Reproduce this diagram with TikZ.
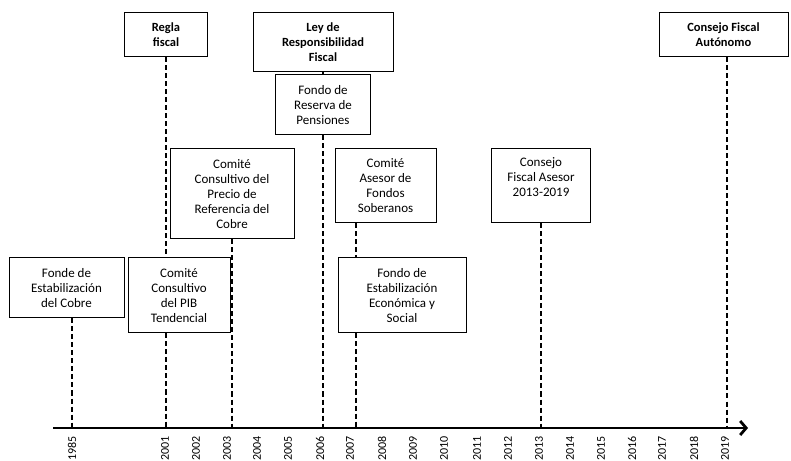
\documentclass[tikz,border=0pt]{standalone}
\usepackage{fontspec}
\setmainfont{Carlito}
\usepackage{tikz}
\usetikzlibrary{positioning, arrows.meta}
\tikzstyle{evento} = [rectangle, draw=black, line width=1pt, fill=white, align=center, inner sep=2pt, font=\fontsize{13}{15}\selectfont]
\tikzstyle{titulo} = [evento, font=\fontsize{12.5}{15}\selectfont\bfseries]
\tikzstyle{linea} = [line width=1.5pt, dash pattern=on 5pt off 3pt]
\tikzstyle{eje} = [line width=2.8pt, -{Straight Barb[length=6pt, width=14pt]}]
\tikzstyle{anio} = [rotate=90, anchor=east, inner sep=0pt, font=\fontsize{12}{14}\selectfont]

\begin{document}
\begin{tikzpicture}[x=1pt, y=1pt, node distance=62.5pt]
		\useasboundingbox (0,0) rectangle (791,460);
		%eventos de arriba
		\node (regla) [titulo, minimum width=83pt, minimum height=44pt] at (166,425) {Regla\\fiscal};
		\node (ley) [titulo, minimum width=140pt, minimum height=59pt] at (323,417.5) {Ley de\\Responsibilidad\\Fiscal};
		\node (reserva) [evento, below of=ley, minimum width=95pt, minimum height=60pt] {Fondo de\\Reserva de\\Pensiones};
		\node (autonomo) [titulo, minimum width=129pt, minimum height=44pt] at (723.5,425) {Consejo Fiscal\\Autónomo};
		
		%eventos del medio
		\node (precio) [evento, minimum width=124pt, minimum height=90pt] at (232,266) {Comité\\Consultivo del\\Precio de\\Referencia del\\Cobre};
		\node (asesor) [evento, minimum width=101pt, minimum height=74pt] at (385.5,274) {Comité\\Asesor de\\Fondos\\Soberanos};
		\node (cfa) [evento, minimum width=99pt, minimum height=74pt, text depth=18pt] at (541,274) {Consejo\\Fiscal Asesor\\2013-2019};
		
		%eventos de abajo
		\node (fce) [evento, minimum width=115pt, minimum height=60pt] at (66.5,172) {Fonde de\\Estabilización\\del Cobre};
		\node (pib) [evento, minimum width=102pt, minimum height=75pt] at (179,164.5) {Comité\\Consultivo\\del PIB\\Tendencial};
		\node (fees) [evento, minimum width=128pt, minimum height=75pt] at (402,164.5) {Fondo de\\Estabilización\\Económica y\\Social};
		
		%puntos sobre el eje
		\coordinate (inicio) at (53,32);
		\coordinate (fin) at (748,32);
		\coordinate (t1985) at (72,32);
		\coordinate (t2001) at (166,32);
		\coordinate (t2003) at (232,32);
		\coordinate (t2006) at (323,32);
		\coordinate (t2007) at (356,32);
		\coordinate (t2013) at (541,32);
		\coordinate (t2019) at (727,32);
		
		%lineas punteadas
		\draw [linea](fce.south -| t1985) -- (t1985);
		\draw [linea](regla.south) -- (pib.north -| regla.south);
		\draw [linea](pib.south -| t2001) -- (t2001);
		\draw [linea](precio.south) -- (t2003);
		\draw [linea](ley.south) -- (reserva.north);
		\draw [linea](reserva.south) -- (t2006);
		\draw [linea](asesor.south -| t2007) -- (fees.north -| t2007);
		\draw [linea](fees.south -| t2007) -- (t2007);
		\draw [linea](cfa.south) -- (t2013);
		\draw [linea](autonomo.south -| t2019) -- (t2019);
		
		%eje del tiempo
		\draw [eje](inicio) -- (fin);
		
		%anios
		\node (a1985) [anio] at (72,24) {1985};
		\node (a2001) [anio] at (165,24) {2001};
		\node (a2002) [anio] at (196,24) {2002};
		\node (a2003) [anio] at (227,24) {2003};
		\node (a2004) [anio] at (257,24) {2004};
		\node (a2005) [anio] at (288,24) {2005};
		\node (a2006) [anio] at (320,24) {2006};
		\node (a2007) [anio] at (350,24) {2007};
		\node (a2008) [anio] at (382,24) {2008};
		\node (a2009) [anio] at (413,24) {2009};
		\node (a2010) [anio] at (444,24) {2010};
		\node (a2011) [anio] at (477,24) {2011};
		\node (a2012) [anio] at (508,24) {2012};
		\node (a2013) [anio] at (539,24) {2013};
		\node (a2014) [anio] at (570,24) {2014};
		\node (a2015) [anio] at (601,24) {2015};
		\node (a2016) [anio] at (632,24) {2016};
		\node (a2017) [anio] at (662,24) {2017};
		\node (a2018) [anio] at (694,24) {2018};
		\node (a2019) [anio] at (725,24) {2019};
		
	\end{tikzpicture}
\end{document}
